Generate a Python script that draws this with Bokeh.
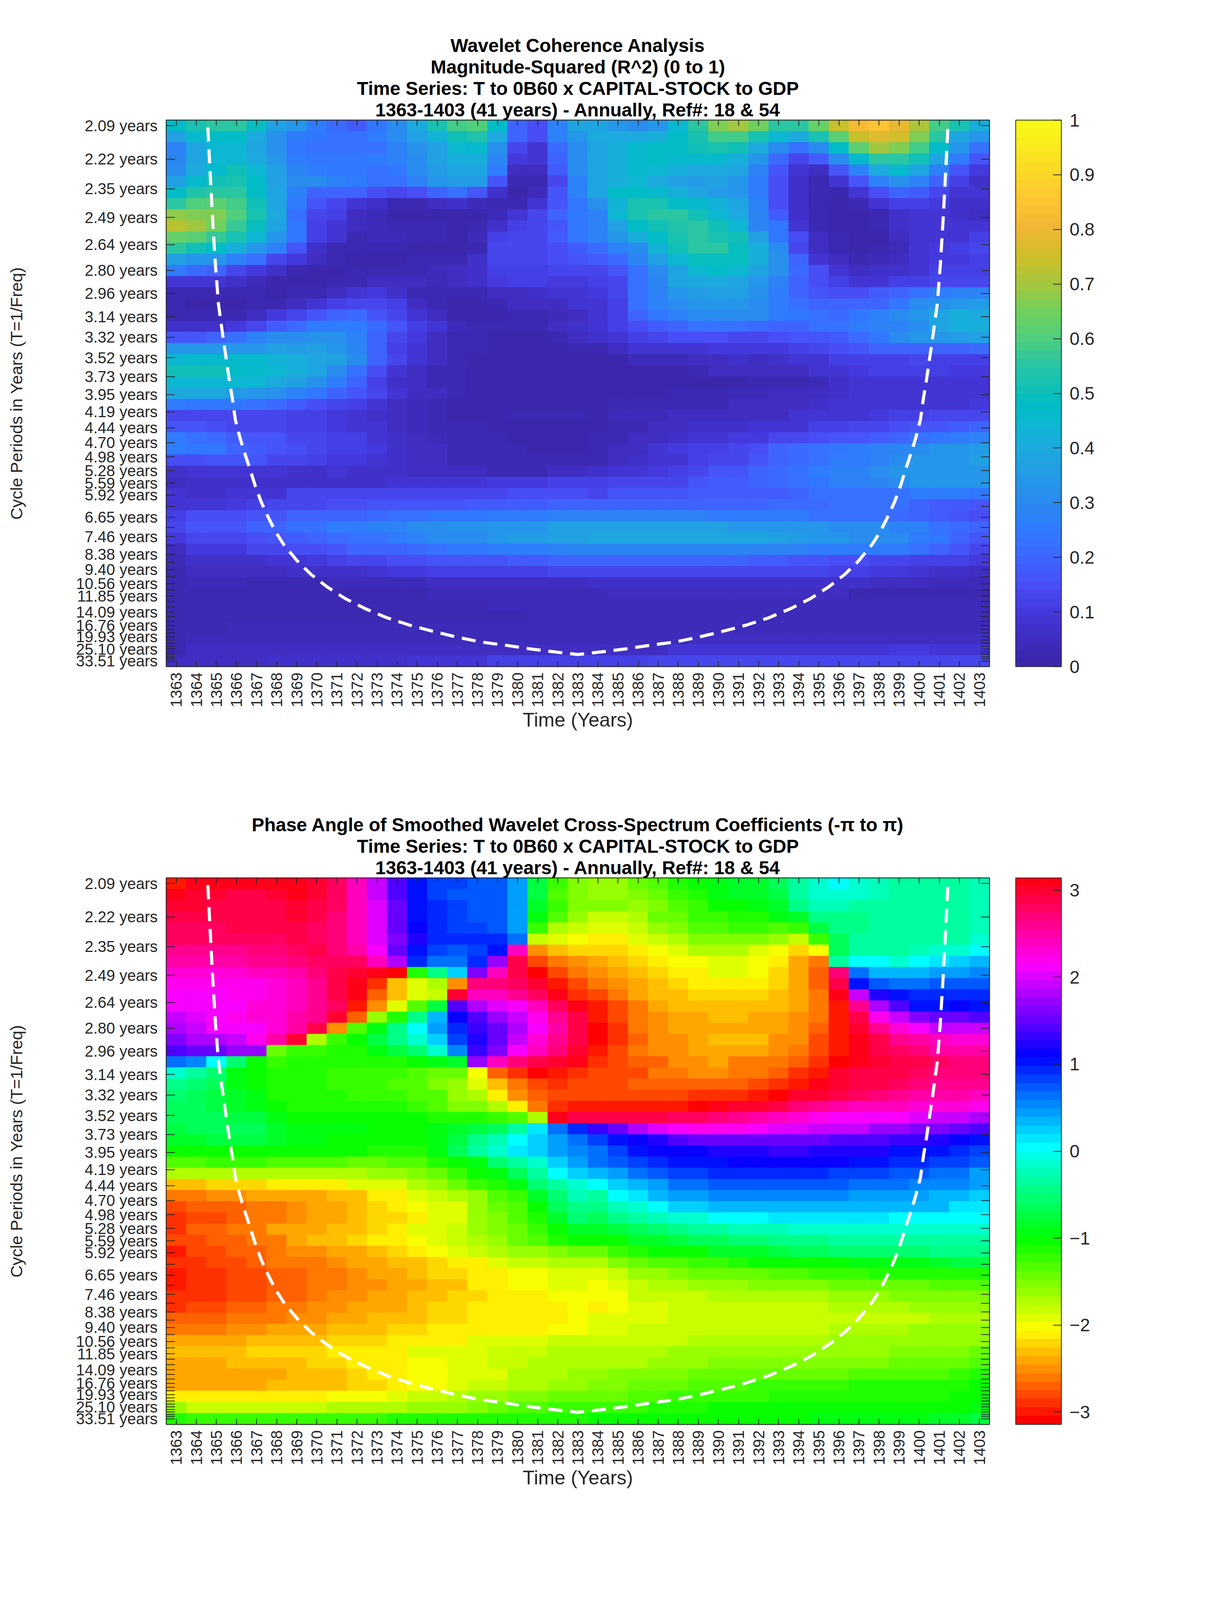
import numpy as np
from bokeh.plotting import figure
from bokeh.layouts import column
from bokeh.embed import file_html
from bokeh.resources import INLINE
from bokeh.models import (ColumnDataSource, LinearColorMapper, ColorBar, FixedTicker, LinearAxis,
                          Range1d, Title)
from bokeh.transform import transform

years = list(range(1363, 1404))
periods = [2.09,2.22,2.35,2.49,2.64,2.80,2.96,3.14,3.32,3.52,3.73,3.95,4.19,4.44,4.70,4.98,5.28,5.59,5.92,
           6.27,6.65,7.05,7.46,7.90,8.38,8.88,9.40,9.96,10.56,11.19,11.85,12.55,13.30,14.09,14.93,15.82,16.76,
           17.76,18.81,19.93,21.11,22.37,23.70,25.10,26.60,28.18,29.85,31.63,33.51]
hidden_periods = [6.27,7.05,7.90,8.88,9.96,11.19,12.55,13.30,14.93,15.82,17.76,18.81,21.11,22.37,23.70,26.60,28.18,29.85,31.63]

titles_top = ["Wavelet Coherence Analysis", "Magnitude-Squared (R^2) (0 to 1)",
              "Time Series: T to 0B60 x CAPITAL-STOCK to GDP", "1363-1403 (41 years) - Annually, Ref#: 18 & 54"]
titles_bottom = ["Phase Angle of Smoothed Wavelet Cross-Spectrum Coefficients (-\u03c0 to \u03c0)",
                 "Time Series: T to 0B60 x CAPITAL-STOCK to GDP", "1363-1403 (41 years) - Annually, Ref#: 18 & 54"]

cone_years = [1364.57,1364.69,1364.81,1364.95,1365.10,1365.30,1365.65,1365.78,1365.94,1366.17,1366.38,1366.64,1366.93,
              1367.22,1367.53,1367.92,1368.36,1369.01,1369.71,1370.51,1371.40,1372.40,1373.49,1374.58,1375.76,1376.95,
              1378.16,1379.34,1380.63,1381.82,1383.0,1384.18,1385.37,1386.66,1387.84,1389.05,1390.24,1391.42,1392.51,
              1393.60,1394.60,1395.49,1396.29,1396.99,1397.64,1398.08,1398.47,1398.78,1399.07,1399.36,1399.62,1399.83,
              1400.06,1400.22,1400.35,1400.70,1400.90,1401.05,1401.19,1401.31,1401.43]
cone_freq = [.4770,.4379,.3997,.3616,.3291,.3044,.2642,.2511,.2321,.2170,.2054,.1922,.1768,.1635,.1520,.1388,.1272,.1140,
             .1024,.0920,.0823,.0738,.0661,.0601,.0548,.0500,.0458,.0432,.0400,.0375,.0353,.0375,.0400,.0432,.0458,.0500,
             .0548,.0601,.0661,.0738,.0823,.0920,.1024,.1140,.1272,.1388,.1520,.1635,.1768,.1922,.2054,.2170,.2321,.2511,
             .2642,.3044,.3291,.3616,.3997,.4379,.4770]

# Coherence, in hundredths; one list per row, shortest period first
coh_00 = [47,53,55,55,49,37,33,26,21,18,24,30,40,52,58,60,47,19,15,28,38, 38,33,31,34,45,56,66,70,65,56,55,63,74,82,85,79,71,59,52,42]
coh_01 = [36,46,47,47,40,32,25,24,22,22,25,30,37,43,50,54,40,20,15,27,34, 40,40,40,42,47,53,59,58,52,44,40,52,62,74,78,76,66,55,38,33]
coh_02 = [27,38,44,45,38,32,24,22,22,22,22,27,32,37,44,46,32,13,9,21,31, 38,42,46,47,47,50,52,50,40,30,23,30,48,62,69,67,58,47,33,23]
coh_03 = [29,39,45,45,40,33,25,24,24,24,26,27,31,36,41,41,29,10,9,20,30, 38,42,46,47,46,46,46,42,33,21,14,18,31,46,56,55,50,38,25,17]
coh_04 = [31,40,46,50,45,36,29,26,24,24,22,24,30,35,38,39,25,5,5,18,30, 38,42,46,44,42,40,40,38,28,17,8,6,17,28,40,46,38,28,17,10]
coh_05 = [36,46,51,53,47,37,31,30,28,26,22,22,27,33,35,35,17,3,3,13,27, 38,42,45,40,37,35,36,34,26,15,7,3,9,17,27,32,28,19,12,7]
coh_06 = [47,54,56,56,48,38,27,20,20,20,15,13,15,19,22,16,7,1,4,17,27, 38,48,48,46,42,38,35,33,26,15,7,2,2,8,15,19,18,14,8,8]
coh_07 = [56,60,61,59,50,38,25,16,13,9,7,3,3,6,7,4,3,3,8,17,24, 32,43,52,52,48,46,43,38,27,15,7,2,0,2,8,11,11,10,7,7]
coh_08 = [68,67,66,60,53,40,23,13,11,6,4,1,1,1,1,1,4,8,13,20,24, 28,45,53,56,55,50,44,40,29,18,7,2,0,1,3,7,9,9,7,6]
coh_09 = [73,69,65,57,49,38,24,11,8,5,4,3,3,2,1,2,7,12,13,17,24, 27,36,47,51,54,55,50,45,29,24,8,3,1,1,3,7,9,9,8,8]
coh_10 = [64,61,57,52,44,33,24,11,8,3,4,4,3,2,1,4,11,14,13,18,24, 27,33,42,47,53,55,53,50,36,24,15,5,2,0,1,5,8,9,9,12]
coh_11 = [55,50,47,42,33,27,16,7,3,2,2,2,1,1,1,3,13,14,13,15,18, 21,27,31,43,50,55,55,49,42,31,13,6,2,1,2,4,8,10,11,13]
coh_12 = [37,33,33,27,22,14,10,5,2,1,1,1,2,2,3,7,14,14,14,15,16, 18,21,29,37,44,49,49,49,42,32,20,8,6,3,4,5,8,10,10,11]
coh_13 = [25,21,20,14,10,7,3,1,1,2,3,3,3,4,5,7,12,12,12,13,13, 14,17,22,31,39,45,47,44,39,32,21,15,8,6,7,7,8,11,11,11]
coh_14 = [9,8,8,7,4,1,1,1,2,3,5,6,5,4,5,7,10,11,11,10,10, 12,14,23,29,38,40,40,39,33,28,19,15,12,9,9,11,12,14,14,14]
coh_15 = [3,3,3,2,2,1,2,3,6,9,10,7,2,2,2,3,5,6,7,8,9, 10,13,23,28,34,35,37,36,32,26,20,16,15,15,18,20,22,26,27,27]
coh_16 = [2,1,1,1,3,2,5,9,12,13,13,12,6,2,1,1,3,5,5,6,8, 8,12,22,28,31,34,34,33,31,26,23,20,19,19,20,24,30,32,33,35]
coh_17 = [3,3,3,3,6,10,13,17,20,21,17,14,8,5,1,0,1,3,3,4,6, 9,12,20,24,27,31,31,30,30,25,24,22,21,24,27,30,33,38,41,40]
coh_18 = [7,7,7,10,13,18,21,25,25,26,21,16,11,8,4,2,2,2,3,5,7, 8,11,15,18,20,22,22,22,21,20,20,22,23,25,27,28,31,38,41,42]
coh_19 = [16,17,19,23,27,31,31,32,32,28,19,13,10,5,3,2,1,1,1,3,5, 7,8,11,14,15,15,15,14,14,15,16,17,18,21,24,30,33,34,35,36]
coh_20 = [34,34,34,34,34,36,35,37,34,29,20,12,9,6,3,2,1,0,1,1,3, 3,6,8,9,9,9,10,10,10,10,12,14,15,17,19,20,20,20,20,21]
coh_21 = [45,46,46,46,46,43,41,38,37,30,20,14,8,5,3,1,1,1,1,0,0, 1,1,4,4,4,6,6,7,6,7,8,9,11,11,11,12,13,12,12,12]
coh_22 = [50,51,50,47,46,45,41,38,31,22,15,9,6,3,2,1,1,1,1,1,1, 0,0,1,1,1,3,5,5,6,6,6,8,9,10,11,11,11,11,10,10]
coh_23 = [45,45,45,45,44,40,37,32,26,19,12,7,5,3,2,1,1,1,1,1,1, 1,1,1,1,1,1,1,1,2,2,3,4,7,8,8,8,8,8,9,9]
coh_24 = [40,40,40,35,33,32,28,24,20,17,14,9,6,5,2,1,1,1,1,1,1, 1,1,1,1,3,3,3,4,4,6,6,6,7,8,8,8,8,8,9,9]
coh_25 = [25,24,24,24,23,21,18,15,13,11,9,6,4,3,1,1,1,1,1,1,1, 1,3,3,3,3,3,3,5,5,5,5,7,8,8,8,8,9,9,9,10]
coh_26 = [14,14,14,14,14,13,12,11,10,9,7,5,4,3,1,1,1,2,2,2,2, 1,4,4,4,5,5,5,6,6,6,8,8,9,9,10,11,11,13,13,14]
coh_27 = [17,16,15,14,14,14,12,11,10,9,8,6,4,3,2,2,1,1,1,1,1, 1,3,3,6,6,7,7,7,8,9,9,11,11,13,14,15,16,17,18,20]
coh_28 = [25,23,21,18,17,16,14,13,11,11,9,7,5,4,3,3,2,0,0,0,1, 2,3,5,5,7,8,9,10,10,13,14,15,16,17,18,20,22,24,25,27]
coh_29 = [26,24,24,20,18,17,15,13,12,11,10,7,5,5,3,2,2,2,0,0,1, 3,5,5,8,10,11,12,13,15,19,21,22,24,25,27,29,31,33,33,35]
coh_30 = [15,15,17,16,16,14,13,12,10,10,8,7,5,5,3,3,2,2,2,2,3, 3,6,7,8,8,12,13,14,16,19,21,23,25,26,28,30,33,34,34,36]
coh_31 = [7,9,9,9,9,9,7,7,8,7,7,7,5,5,6,6,3,3,3,5,6, 7,8,9,10,11,14,16,17,19,21,22,25,27,28,30,33,34,34,34,34]
coh_32 = [5,7,7,7,7,7,7,7,7,7,7,8,8,8,8,9,10,10,10,11,11, 11,13,13,13,14,16,18,18,20,21,22,24,27,28,29,31,33,33,33,33]
coh_33 = [8,7,7,9,9,9,14,14,14,14,14,14,14,14,14,14,14,15,15,15,15, 14,16,17,17,17,18,18,18,18,18,20,22,22,23,23,23,25,25,25,24]
coh_34 = [8,8,8,10,12,13,14,14,15,15,16,16,17,17,17,18,18,18,18,19,19, 19,20,20,20,20,20,20,20,20,21,21,21,22,22,22,22,19,18,18,17]
coh_35 = [12,15,15,15,17,17,19,19,20,20,21,23,23,24,24,24,25,25,26,27,27, 27,28,28,28,28,28,26,25,25,25,25,23,23,22,22,21,20,18,16,15]
coh_36 = [13,16,17,17,19,20,22,23,25,26,28,28,30,31,32,32,33,34,34,36,36, 36,36,37,37,37,37,36,34,34,33,33,33,30,30,30,28,27,22,21,20]
coh_37 = [10,13,14,14,15,16,18,19,21,22,23,25,27,30,31,31,34,35,35,37,37, 38,38,38,38,38,38,38,38,38,37,35,33,33,31,31,30,25,24,20,16]
coh_38 = [6,10,10,10,13,13,15,15,17,19,20,20,21,23,24,24,26,26,26,28,29, 29,29,29,29,29,29,29,29,29,29,27,26,25,25,25,25,22,19,17,14]
coh_39 = [4,7,7,7,7,9,9,10,11,13,14,15,15,16,16,16,17,18,18,19,20, 20,20,20,20,20,20,19,19,18,18,17,17,15,15,14,13,12,12,11,10]
coh_40 = [2,5,5,5,5,5,7,7,7,7,9,10,10,11,11,11,12,12,12,13,13, 13,14,14,14,14,14,14,14,14,14,14,14,12,12,10,10,9,7,7,6]
coh_41 = [2,4,4,4,3,3,3,3,4,4,4,4,4,5,5,5,5,5,5,6,6, 7,7,7,7,7,7,7,7,7,7,7,7,7,7,6,5,5,4,4,4]
coh_42 = [2,2,2,2,2,3,3,3,3,3,3,3,3,4,4,4,4,4,4,4,4, 4,5,5,5,5,5,5,5,5,5,5,5,5,3,3,3,3,3,3,3]
coh_43 = [2,2,2,2,2,3,3,3,3,3,3,3,3,3,3,3,4,4,4,4,4, 4,4,4,4,4,4,4,4,4,4,4,4,4,4,4,4,4,4,4,4]
coh_44 = [2,2,2,3,3,3,3,3,3,3,3,3,3,3,3,3,3,3,4,4,4, 4,4,4,4,4,4,4,4,4,4,4,4,4,4,4,4,4,4,4,4]
coh_45 = [2,2,2,4,4,4,4,4,4,4,4,4,4,4,4,4,4,4,4,4,4, 4,4,4,4,4,4,4,4,4,4,4,4,4,4,4,4,4,4,4,4]
coh_46 = [2,4,4,4,4,4,4,4,4,4,4,4,4,4,4,4,4,4,4,4,4, 4,4,4,4,4,6,6,6,6,6,6,6,6,6,6,6,6,6,6,6]
coh_47 = [3,5,5,5,5,5,5,5,5,5,5,5,6,6,6,6,6,6,6,6,6, 6,6,6,6,8,8,8,8,8,8,8,8,8,8,8,10,10,9,9,9]
coh_48 = [5,6,6,6,6,7,7,7,7,7,7,7,9,9,9,9,11,11,11,11,11, 11,11,11,13,13,13,13,13,13,13,13,13,13,13,13,13,14,14,14,14]
coherence_rows = [coh_00,coh_01,coh_02,coh_03,coh_04,coh_05,coh_06,coh_07,coh_08,coh_09,coh_10,coh_11,coh_12,coh_13,coh_14,
                  coh_15,coh_16,coh_17,coh_18,coh_19,coh_20,coh_21,coh_22,coh_23,coh_24,coh_25,coh_26,coh_27,coh_28,coh_29,
                  coh_30,coh_31,coh_32,coh_33,coh_34,coh_35,coh_36,coh_37,coh_38,coh_39,coh_40,coh_41,coh_42,coh_43,coh_44,
                  coh_45,coh_46,coh_47,coh_48]

# Phase angle, radians
ph_00 = [-3.0,3.1,3.1,3.1,3.1,3.1,3.1,3.0,2.8,2.4,1.9,1.4,1.0,.8,.8,.7,.7,.4,-.7,-1.2,-1.5, -1.6,-1.6,-1.4,-1.3,-1.1,-1.0,-.9,-.8,-.8,-.6,-.3,-.1,0,-.1,-.2,-.3,-.3,-.3,-.3,-.2]
ph_01 = [3.1,3.0,3.0,2.9,2.9,3.0,3.1,3.0,2.8,2.4,1.9,1.4,1.0,.8,.7,.7,.7,.4,-.7,-1.3,-1.5, -1.6,-1.6,-1.5,-1.4,-1.2,-1.1,-.9,-.8,-.8,-.7,-.3,-.1,-.1,-.1,-.2,-.3,-.3,-.3,-.3,-.2]
ph_02 = [3.0,3.0,2.9,2.9,2.9,2.9,3.0,2.9,2.8,2.4,2.0,1.5,1.0,.9,.8,.7,.7,.4,-.8,-1.2,-1.5, -1.5,-1.5,-1.6,-1.5,-1.3,-1.2,-1.0,-1.0,-.9,-.8,-.4,-.2,-.2,-.3,-.3,-.3,-.3,-.3,-.3,-.2]
ph_03 = [2.9,2.9,2.9,2.9,2.9,2.9,3.0,2.9,2.7,2.4,2.0,1.5,1.0,.9,.8,.7,.7,.4,-.9,-1.3,-1.6, -1.8,-1.8,-1.7,-1.4,-1.4,-1.2,-1.2,-1.1,-1.1,-.9,-.8,-.4,-.4,-.4,-.3,-.3,-.3,-.3,-.3,-.2]
ph_04 = [2.8,2.8,2.8,2.9,2.9,2.9,2.9,2.8,2.7,2.4,2.0,1.5,1.1,.9,.8,.8,.7,.4,-1.2,-1.7,-1.8, -1.9,-1.9,-1.8,-1.6,-1.5,-1.3,-1.3,-1.2,-1.2,-1.3,-1.2,-.7,-.4,-.4,-.3,-.3,-.3,-.3,-.3,-.2]
ph_05 = [2.8,2.8,2.8,2.8,2.8,2.8,2.9,2.8,2.7,2.4,2.0,1.6,1.2,.9,.9,.9,.9,.6,-1.8,-1.9,-2.0, -2.1,-2.1,-1.9,-1.8,-1.7,-1.5,-1.5,-1.5,-1.5,-1.6,-1.8,-1.2,-.6,-.3,-.3,-.3,-.3,-.3,-.3,-.1]
ph_06 = [2.6,2.6,2.6,2.6,2.7,2.7,2.8,2.9,2.7,2.5,2.1,1.5,1.0,.8,.7,.8,1.0,2.4,-2.5,-2.3,-2.2, -2.2,-2.2,-2.1,-2.0,-1.9,-1.7,-1.7,-1.7,-1.9,-2.0,-2.2,-2.0,-.6,-.3,-.3,-.3,-.2,-.1,-.1,0]
ph_07 = [2.5,2.5,2.5,2.5,2.6,2.6,2.7,2.8,2.8,2.8,2.4,1.8,.9,.6,.6,.9,1.7,2.9,-2.8,-2.6,-2.5, -2.4,-2.3,-2.2,-2.1,-2.0,-2.0,-1.9,-1.9,-2.0,-2.1,-2.4,-2.6,-.3,0,0,-.1,0,.1,.2,.3]
ph_08 = [2.3,2.3,2.3,2.3,2.4,2.4,2.5,2.7,2.9,3.0,3.1,-3.1,-1.1,-.4,.2,1.6,2.4,2.9,-3.1,-2.8,-2.6, -2.5,-2.4,-2.3,-2.2,-2.1,-2.1,-1.9,-1.9,-2.0,-2.2,-2.4,-2.7,2.7,.6,.3,.3,.3,.4,.4,.5]
ph_09 = [2.2,2.2,2.2,2.2,2.2,2.3,2.4,2.6,2.9,3.1,-2.9,-2.3,-1.9,-1.7,-2.5,2.7,2.7,2.8,3.0,-3.0,-2.8, -2.6,-2.5,-2.4,-2.3,-2.2,-2.1,-2.1,-2.1,-2.1,-2.2,-2.4,-2.7,2.9,1.0,.7,.6,.6,.7,.7,.7]
ph_10 = [2.1,2.1,2.1,2.2,2.2,2.3,2.4,2.6,2.9,3.1,-2.7,-2.3,-1.9,-1.8,3.0,2.4,2.4,2.6,2.8,3.1,-2.9, -2.8,-2.6,-2.4,-2.3,-2.3,-2.2,-2.2,-2.2,-2.2,-2.3,-2.4,-2.6,3.1,1.9,1.2,1.0,.9,.9,.9,.9]
ph_11 = [2.1,2.1,2.1,2.1,2.3,2.3,2.4,2.6,2.8,-3.0,-2.5,-1.9,-1.3,-.7,1.4,1.8,2.0,2.1,2.4,2.8,3.1, -3.0,-2.8,-2.6,-2.4,-2.3,-2.3,-2.3,-2.3,-2.3,-2.3,-2.4,-2.6,-3.0,2.6,1.8,1.4,1.0,1.0,1.1,1.0]
ph_12 = [1.9,2.0,2.1,2.2,2.3,2.3,2.5,2.6,3.0,-2.7,-1.6,-1.1,-.4,.3,1.1,1.4,1.7,1.9,2.2,2.6,2.9, -3.0,-2.8,-2.6,-2.5,-2.4,-2.4,-2.3,-2.3,-2.4,-2.4,-2.5,-2.6,-3.0,2.9,2.2,1.9,1.6,1.5,1.5,1.4]
ph_13 = [1.8,1.9,2.1,2.1,2.1,2.3,2.5,2.9,-2.5,-1.3,-.9,-.4,0,.4,.9,1.3,1.5,1.8,2.1,2.5,2.9, -3.1,-2.9,-2.6,-2.5,-2.4,-2.4,-2.4,-2.4,-2.4,-2.4,-2.5,-2.7,-3.0,3.0,2.6,2.3,2.1,1.9,1.9,1.9]
ph_14 = [1.6,1.8,1.8,1.9,2.2,2.5,3.0,-1.7,-1.2,-1.0,-.7,-.4,-.1,.2,.8,1.2,1.5,1.9,2.3,2.6,2.9, -3.1,-2.9,-2.7,-2.5,-2.5,-2.4,-2.3,-2.3,-2.3,-2.5,-2.5,-2.8,-3.0,3.1,2.9,2.6,2.5,2.4,2.3,2.3]
ph_15 = [1.4,1.5,1.5,1.7,1.7,-1.4,-1.2,-1.2,-1.1,-1.1,-.9,-.7,-.5,-.1,.5,1.3,1.6,2.1,2.4,2.7,3.0, -3.0,-2.8,-2.6,-2.5,-2.5,-2.4,-2.4,-2.4,-2.4,-2.5,-2.6,-2.8,-3.0,3.1,2.9,2.8,2.7,2.5,2.5,2.5]
ph_16 = [.6,.5,0,-.5,-1.0,-1.2,-1.1,-1.1,-1.1,-1.1,-1.1,-1.1,-1.0,-.9,-.8,1.7,2.4,2.7,2.9,3.0,3.1, -2.9,-2.8,-2.7,-2.7,-2.5,-2.5,-2.4,-2.6,-2.6,-2.6,-2.7,-2.9,-3.1,3.1,3.0,2.9,2.9,2.8,2.7,2.7]
ph_17 = [-.1,-.3,-.5,-.9,-1.0,-1.1,-1.1,-1.1,-1.2,-1.2,-1.2,-1.2,-1.3,-1.4,-1.4,-2.0,-2.7,-2.9,-3.1,-3.0,-2.9, -2.8,-2.8,-2.8,-2.6,-2.6,-2.5,-2.5,-2.6,-2.6,-2.7,-2.9,-3.0,3.0,2.9,2.9,2.9,2.8,2.7,2.7,2.7]
ph_18 = [-.4,-.5,-.6,-.9,-1.0,-1.1,-1.1,-1.1,-1.2,-1.2,-1.2,-1.3,-1.3,-1.5,-1.6,-1.9,-2.3,-2.6,-2.8,-2.9,-2.8, -2.8,-2.8,-2.7,-2.7,-2.7,-2.7,-2.7,-2.7,-2.8,-2.9,-3.0,3.1,3.0,2.9,2.9,2.8,2.7,2.6,2.6,2.6]
ph_19 = [-.5,-.6,-.7,-.8,-.9,-1.1,-1.1,-1.1,-1.1,-1.2,-1.2,-1.2,-1.3,-1.3,-1.6,-1.7,-2.1,-2.5,-2.7,-2.8,-2.8, -2.8,-2.8,-2.8,-2.8,-2.8,-2.9,-2.9,-2.9,-3.0,-3.1,3.0,3.0,2.9,2.8,2.7,2.6,2.5,2.5,2.5,2.4]
ph_20 = [-.6,-.6,-.7,-.8,-.9,-1.0,-1.1,-1.1,-1.1,-1.1,-1.1,-1.1,-1.2,-1.3,-1.5,-1.5,-1.7,-2.1,-2.6,-2.9,-3.0, -3.0,-3.0,-3.0,-3.0,-3.0,-3.1,3.1,3.0,3.0,2.9,2.7,2.6,2.5,2.4,2.4,2.4,2.3,2.3,2.3,2.2]
ph_21 = [-.6,-.6,-.6,-.7,-.7,-.9,-1.0,-1.0,-1.0,-1.0,-1.0,-1.0,-1.0,-1.1,-1.1,-1.1,-1.2,-1.3,-1.7,3.1,2.9, 2.9,2.9,2.9,2.9,2.8,2.8,2.7,2.6,2.5,2.4,2.3,2.2,2.1,2.1,2.1,2.1,2.0,1.9,1.9,1.8]
ph_22 = [-.7,-.6,-.6,-.6,-.6,-.8,-.9,-.9,-.9,-.9,-1.0,-1.0,-1.0,-.9,-.8,-.7,-.6,-.3,.1,.6,.9, 1.3,1.5,1.8,2.0,2.1,2.2,2.2,2.2,2.1,2.0,2.0,1.9,1.9,1.9,1.7,1.7,1.6,1.6,1.5,1.4]
ph_23 = [-.8,-.8,-.7,-.7,-.7,-.8,-.9,-.9,-1.0,-1.0,-1.0,-1.0,-1.0,-.9,-.7,-.4,-.2,0,.2,.4,.6, .8,1.0,1.1,1.2,1.4,1.5,1.5,1.5,1.5,1.5,1.5,1.5,1.4,1.4,1.4,1.3,1.3,1.2,1.1,1.0]
ph_24 = [-1.0,-1.0,-1.0,-1.0,-1.0,-1.0,-1.0,-1.0,-1.0,-1.0,-1.1,-1.1,-1.1,-.9,-.6,-.3,-.1,.1,.2,.4,.5, .6,.8,1.0,1.1,1.1,1.1,1.2,1.2,1.2,1.3,1.3,1.2,1.2,1.2,1.2,1.0,1.0,1.0,.9,.8]
ph_25 = [-1.3,-1.3,-1.2,-1.2,-1.2,-1.3,-1.3,-1.3,-1.3,-1.4,-1.4,-1.3,-1.3,-1.1,-1.0,-.9,-.5,-.3,-.1,.2,.4, .6,.7,.8,.9,1.0,1.0,1.0,1.1,1.1,1.1,1.1,1.1,1.1,1.0,1.0,.9,.9,.8,.8,.7]
ph_26 = [-1.7,-1.7,-1.7,-1.7,-1.7,-1.7,-1.7,-1.7,-1.7,-1.7,-1.6,-1.6,-1.5,-1.4,-1.2,-1.0,-.9,-.6,-.3,0,.2, .3,.4,.6,.7,.8,.8,.9,.9,.9,.9,.9,.9,.8,.8,.8,.7,.7,.6,.6,.4]
ph_27 = [-2.3,-2.3,-2.2,-2.2,-2.2,-2.1,-2.1,-2.1,-2.1,-1.9,-1.9,-1.9,-1.7,-1.6,-1.4,-1.2,-1.1,-.9,-.5,-.3,-.1, 0,.2,.3,.4,.6,.6,.7,.7,.7,.7,.7,.7,.7,.6,.6,.6,.5,.5,.5,.4]
ph_28 = [-2.6,-2.6,-2.5,-2.5,-2.4,-2.4,-2.4,-2.4,-2.3,-2.3,-2.1,-2.1,-1.9,-1.8,-1.7,-1.6,-1.3,-1.2,-.8,-.5,-.2, -.3,0,.1,.3,.4,.4,.5,.5,.5,.5,.5,.5,.5,.4,.4,.4,.4,.3,.3,.2]
ph_29 = [-2.8,-2.7,-2.7,-2.7,-2.6,-2.6,-2.5,-2.4,-2.4,-2.3,-2.2,-2.1,-2.0,-1.9,-1.9,-1.6,-1.4,-1.3,-1.0,-.6,-.4, -.4,-.2,-.1,0,.2,.2,.3,.3,.3,.3,.3,.3,.3,.3,.3,.3,.3,.3,.1,.1]
ph_30 = [-2.9,-2.8,-2.8,-2.7,-2.6,-2.6,-2.5,-2.4,-2.4,-2.3,-2.2,-2.2,-2.1,-1.9,-1.9,-1.6,-1.5,-1.3,-1.1,-.8,-.5, -.6,-.4,-.3,-.2,-.1,-.1,0,0,0,.1,.1,.1,.1,.1,.1,0,0,0,0,0]
ph_31 = [-2.9,-2.7,-2.7,-2.6,-2.6,-2.4,-2.4,-2.4,-2.3,-2.3,-2.2,-2.1,-1.9,-1.9,-1.8,-1.6,-1.5,-1.4,-1.2,-1.0,-.8, -.8,-.7,-.6,-.5,-.4,-.3,-.3,-.2,-.2,-.2,-.1,-.1,-.1,-.1,-.1,-.1,-.1,-.1,-.1,-.1]
ph_32 = [-2.8,-2.8,-2.7,-2.7,-2.6,-2.6,-2.4,-2.3,-2.3,-2.2,-2.1,-2.1,-2.0,-1.9,-1.8,-1.7,-1.6,-1.4,-1.3,-1.1,-1.0, -1.0,-1.0,-.8,-.8,-.7,-.6,-.6,-.5,-.5,-.4,-.4,-.4,-.3,-.3,-.3,-.3,-.3,-.3,-.3,-.3]
ph_33 = [-3.0,-2.8,-2.8,-2.7,-2.7,-2.6,-2.5,-2.5,-2.4,-2.4,-2.3,-2.2,-2.1,-2.0,-1.9,-1.8,-1.7,-1.6,-1.6,-1.5,-1.4, -1.4,-1.2,-1.1,-1.0,-1.0,-1.0,-.8,-.8,-.8,-.7,-.6,-.6,-.5,-.5,-.5,-.5,-.5,-.4,-.4,-.4]
ph_34 = [-2.9,-2.9,-2.8,-2.8,-2.7,-2.6,-2.6,-2.6,-2.5,-2.4,-2.4,-2.3,-2.3,-2.2,-2.1,-2.1,-1.9,-1.8,-1.8,-1.7,-1.7, -1.7,-1.5,-1.4,-1.3,-1.3,-1.2,-1.2,-1.1,-1.0,-1.0,-1.0,-1.0,-1.0,-.9,-.9,-.9,-.9,-.8,-.7,-.7]
ph_35 = [-3.0,-2.9,-2.9,-2.8,-2.8,-2.7,-2.7,-2.6,-2.6,-2.5,-2.4,-2.4,-2.3,-2.2,-2.2,-2.1,-2.1,-2.0,-2.0,-1.9,-1.9, -1.9,-1.8,-1.6,-1.6,-1.5,-1.4,-1.4,-1.4,-1.4,-1.3,-1.3,-1.2,-1.2,-1.2,-1.1,-1.1,-1.1,-1.1,-1.1,-1.1]
ph_36 = [-3.0,-2.9,-2.9,-2.8,-2.8,-2.7,-2.7,-2.6,-2.6,-2.5,-2.5,-2.4,-2.4,-2.3,-2.3,-2.1,-2.1,-2.0,-2.0,-1.9,-1.9, -2.0,-1.9,-1.8,-1.7,-1.7,-1.6,-1.6,-1.6,-1.5,-1.5,-1.5,-1.5,-1.4,-1.4,-1.4,-1.4,-1.4,-1.3,-1.3,-1.3]
ph_37 = [-2.9,-2.9,-2.9,-2.8,-2.8,-2.7,-2.7,-2.6,-2.5,-2.5,-2.4,-2.4,-2.3,-2.3,-2.2,-2.2,-2.1,-2.1,-2.1,-2.0,-2.0, -2.0,-2.0,-1.8,-1.8,-1.8,-1.8,-1.7,-1.7,-1.7,-1.7,-1.7,-1.7,-1.6,-1.6,-1.6,-1.5,-1.5,-1.5,-1.5,-1.5]
ph_38 = [-2.9,-2.8,-2.8,-2.7,-2.7,-2.6,-2.6,-2.5,-2.5,-2.4,-2.4,-2.4,-2.3,-2.2,-2.2,-2.1,-2.1,-2.1,-2.1,-2.1,-2.0, -2.1,-2.0,-1.9,-1.9,-1.8,-1.8,-1.8,-1.8,-1.8,-1.8,-1.8,-1.8,-1.7,-1.7,-1.7,-1.7,-1.6,-1.6,-1.6,-1.6]
ph_39 = [-2.7,-2.7,-2.7,-2.6,-2.6,-2.6,-2.5,-2.5,-2.4,-2.4,-2.3,-2.3,-2.3,-2.2,-2.2,-2.1,-2.1,-2.1,-2.1,-2.1,-2.0, -1.9,-1.9,-1.9,-1.9,-1.8,-1.8,-1.8,-1.8,-1.8,-1.8,-1.8,-1.8,-1.8,-1.8,-1.8,-1.8,-1.8,-1.7,-1.7,-1.7]
ph_40 = [-2.6,-2.6,-2.6,-2.5,-2.5,-2.4,-2.4,-2.4,-2.3,-2.3,-2.3,-2.2,-2.2,-2.1,-2.1,-2.1,-2.1,-2.1,-2.1,-2.0,-2.0, -1.9,-1.9,-1.8,-1.8,-1.8,-1.8,-1.8,-1.8,-1.8,-1.8,-1.8,-1.8,-1.7,-1.7,-1.7,-1.7,-1.6,-1.6,-1.6,-1.6]
ph_41 = [-2.4,-2.4,-2.4,-2.4,-2.3,-2.3,-2.3,-2.3,-2.2,-2.2,-2.2,-2.1,-2.1,-2.1,-2.1,-1.9,-1.9,-1.9,-1.9,-1.8,-1.8, -1.8,-1.8,-1.8,-1.8,-1.8,-1.7,-1.7,-1.7,-1.7,-1.7,-1.7,-1.7,-1.6,-1.6,-1.6,-1.6,-1.6,-1.6,-1.6,-1.6]
ph_42 = [-2.3,-2.3,-2.3,-2.3,-2.2,-2.2,-2.2,-2.2,-2.1,-2.1,-2.1,-2.1,-1.9,-1.9,-1.9,-1.9,-1.8,-1.8,-1.8,-1.7,-1.7, -1.7,-1.7,-1.7,-1.7,-1.6,-1.6,-1.6,-1.6,-1.6,-1.6,-1.6,-1.6,-1.6,-1.6,-1.6,-1.5,-1.5,-1.5,-1.5,-1.4]
ph_43 = [-2.4,-2.4,-2.4,-2.3,-2.3,-2.3,-2.3,-2.2,-2.2,-2.1,-2.1,-2.1,-2.0,-2.0,-1.9,-1.9,-1.8,-1.8,-1.7,-1.7,-1.7, -1.7,-1.7,-1.7,-1.6,-1.6,-1.6,-1.5,-1.5,-1.5,-1.5,-1.5,-1.5,-1.5,-1.5,-1.5,-1.4,-1.4,-1.4,-1.4,-1.3]
ph_44 = [-2.4,-2.4,-2.4,-2.4,-2.4,-2.4,-2.3,-2.3,-2.3,-2.2,-2.1,-2.1,-2.0,-2.0,-1.9,-1.9,-1.9,-1.7,-1.7,-1.7,-1.6, -1.6,-1.5,-1.5,-1.5,-1.5,-1.4,-1.4,-1.4,-1.4,-1.4,-1.4,-1.4,-1.4,-1.3,-1.3,-1.3,-1.3,-1.3,-1.2,-1.1]
ph_45 = [-2.4,-2.4,-2.4,-2.4,-2.4,-2.3,-2.3,-2.3,-2.3,-2.2,-2.2,-2.1,-2.0,-2.0,-1.9,-1.8,-1.8,-1.7,-1.7,-1.6,-1.6, -1.5,-1.5,-1.4,-1.4,-1.4,-1.3,-1.3,-1.3,-1.2,-1.2,-1.2,-1.2,-1.2,-1.1,-1.1,-1.1,-1.1,-1.1,-1.1,-1.0]
ph_46 = [-2.1,-2.1,-2.1,-2.1,-2.1,-2.1,-2.1,-2.1,-2.0,-2.0,-2.0,-1.9,-1.8,-1.8,-1.7,-1.6,-1.6,-1.5,-1.5,-1.4,-1.4, -1.4,-1.4,-1.3,-1.3,-1.2,-1.2,-1.2,-1.2,-1.2,-1.1,-1.1,-1.1,-1.1,-1.1,-1.1,-1.1,-1.1,-1.1,-1.0,-1.0]
ph_47 = [-1.6,-1.8,-1.8,-1.8,-1.8,-1.8,-1.8,-1.8,-1.7,-1.7,-1.7,-1.7,-1.6,-1.6,-1.6,-1.5,-1.4,-1.3,-1.3,-1.2,-1.2, -1.2,-1.2,-1.2,-1.1,-1.1,-1.1,-1.0,-1.0,-1.0,-1.0,-1.0,-1.0,-1.0,-1.0,-1.0,-1.0,-1.0,-1.0,-1.0,-.9]
ph_48 = [-1.1,-1.2,-1.2,-1.2,-1.2,-1.2,-1.2,-1.2,-1.2,-1.2,-1.2,-1.1,-1.1,-1.1,-1.1,-1.1,-1.1,-1.1,-1.1,-1.1,-1.1, -1.0,-1.0,-1.0,-1.0,-1.0,-1.0,-1.0,-1.0,-1.0,-1.0,-1.0,-.9,-.9,-.9,-.9,-.9,-.9,-.8,-.8,-.7]
phase_rows = [ph_00,ph_01,ph_02,ph_03,ph_04,ph_05,ph_06,ph_07,ph_08,ph_09,ph_10,ph_11,ph_12,ph_13,ph_14,ph_15,ph_16,ph_17,
              ph_18,ph_19,ph_20,ph_21,ph_22,ph_23,ph_24,ph_25,ph_26,ph_27,ph_28,ph_29,ph_30,ph_31,ph_32,ph_33,ph_34,ph_35,
              ph_36,ph_37,ph_38,ph_39,ph_40,ph_41,ph_42,ph_43,ph_44,ph_45,ph_46,ph_47,ph_48]

# colour scales
stops = [0,.05,.10,.15,.20,.25,.30,.35,.40,.45,.48,.50,.55,.60,.65,.70,.75,.80,.85,.90,1.0]
stop_rgb = [(58,38,168),(62,45,190),(68,56,220),(72,78,245),(62,102,255),(48,122,255),(42,138,240),(35,155,230),
            (28,170,222),(10,184,208),(0,188,198),(12,190,185),(38,196,165),(78,207,125),(112,208,92),(165,198,60),
            (205,190,40),(240,182,52),(255,195,50),(250,215,40),(249,251,20)]
def parula64():
    t = (np.arange(64) + .5) / 64
    a = np.array(stop_rgb, float)
    return ["#%02x%02x%02x" % tuple(int(round(np.interp(v, stops, a[:, c]))) for c in range(3)) for v in t]
def hsv64():
    import colorsys
    return ["#%02x%02x%02x" % tuple(int(round(255 * c)) for c in colorsys.hsv_to_rgb(i / 64, 1, 1)) for i in range(64)]

INK = "#262626"
FONT = "Liberation Sans"
FREQ = [1 / t for t in periods]
FTOP = FREQ[0]; FBOT = FREQ[-1]
STEP = (FTOP - FBOT) / 48
# The captured picture is cut off about 4094 px down, so the vertical layout is fitted into that height.
LEFT, FRAME_W, FRAME_H = 425, 2107, 1399
PAGE_W = 3120

def panel(rows, mapper, cb_ticks, titles, top_border, bottom_border):
    x0, x1, y0, y1, val = [], [], [], [], []
    for r, row in enumerate(rows):
        for c, v in enumerate(row[:len(years)]):
            x0.append(years[c] - .5); x1.append(years[c] + .5)
            y1.append(FTOP + STEP * (.5 - r)); y0.append(FTOP + STEP * (-.5 - r))
            val.append(v)
    src = ColumnDataSource(dict(left=x0, right=x1, bottom=y0, top=y1, val=val))
    p = figure(width=PAGE_W, height=top_border + FRAME_H + bottom_border, frame_width=FRAME_W, frame_height=FRAME_H,
               output_backend="svg", toolbar_location=None,
               x_range=Range1d(1362.5, 1403.5), y_range=Range1d(FBOT - STEP / 2, FTOP + STEP / 2),
               min_border_left=LEFT, min_border_top=top_border, min_border_bottom=bottom_border,
               min_border_right=PAGE_W - LEFT - FRAME_W,
               x_axis_type=None, y_axis_type=None, background_fill_color="white", border_fill_color="white")
    col = transform("val", mapper)
    p.quad(left="left", right="right", bottom="bottom", top="top", source=src, fill_color=col, line_color=col, line_width=1)
    p.line(cone_years, cone_freq, line_color="white", line_width=8, line_dash="36 20")
    p.grid.visible = False
    p.outline_line_color = INK
    p.outline_line_width = 2

    labels = {f: ("" if t in hidden_periods else "%.2f years" % t) for f, t in zip(FREQ, periods)}
    blank_y = {f: "" for f in FREQ}
    blank_x = {y: "" for y in years}
    style = dict(major_tick_out=0, minor_tick_line_color=None, axis_line_color=INK, axis_line_width=2,
                 major_tick_line_color=INK, major_tick_line_width=2, major_label_text_color=INK,
                 major_label_text_font=FONT, major_label_text_font_size="40px", axis_label_text_color=INK,
                 axis_label_text_font=FONT, axis_label_text_font_size="43px", axis_label_text_font_style="normal")
    yl = LinearAxis(ticker=FixedTicker(ticks=FREQ), major_tick_in=22, major_label_overrides=labels, major_label_standoff=22,
                    axis_label="Cycle Periods in Years (T=1/Freq)", axis_label_standoff=125, **style)
    xb = LinearAxis(ticker=FixedTicker(ticks=years), major_tick_in=14, major_label_orientation=np.pi / 2, major_label_standoff=15,
                    axis_label="Time (Years)", axis_label_standoff=2, **style)
    xb.axis_label_text_font_size = "50px"
    yr = LinearAxis(ticker=FixedTicker(ticks=FREQ), major_tick_in=22, major_label_overrides=blank_y, major_label_standoff=0, **style)
    xt = LinearAxis(ticker=FixedTicker(ticks=years), major_tick_in=14, major_label_overrides=blank_x, major_label_standoff=0, **style)
    p.add_layout(yl, "left"); p.add_layout(xb, "below"); p.add_layout(yr, "right"); p.add_layout(xt, "above")

    for t in reversed(titles):
        p.add_layout(Title(text=t, align="center", text_font=FONT, text_font_size="48px", text_font_style="bold",
                           text_color="black", standoff=0), "above")

    cb = ColorBar(color_mapper=mapper, ticker=FixedTicker(ticks=cb_ticks), width=117, height=FRAME_H, location=(67, 0),
                  padding=0, margin=0, major_tick_in=21, major_tick_out=0, major_tick_line_color=INK, major_tick_line_width=2,
                  minor_tick_line_color=None, bar_line_color=INK, bar_line_width=2, label_standoff=21,
                  major_label_text_color=INK, major_label_text_font=FONT, major_label_text_font_size="46px",
                  border_line_color=None, background_fill_color=None)
    p.add_layout(cb, "right")
    return p

map_c = LinearColorMapper(palette=parula64(), low=0, high=1)
map_p = LinearColorMapper(palette=hsv64(), low=-np.pi, high=np.pi)
coh_values = [[v / 100 for v in row] for row in coherence_rows]
p1 = panel(coh_values, map_c, [0,.1,.2,.3,.4,.5,.6,.7,.8,.9,1], titles_top, 307, 294)
p2 = panel(phase_rows, map_p, [-3,-2,-1,0,1,2,3], titles_bottom, 247, 444)
page = column(p1, p2, spacing=0, width=PAGE_W, height=2000 + 2090)
open("out.html", "w").write(file_html(page, INLINE))
